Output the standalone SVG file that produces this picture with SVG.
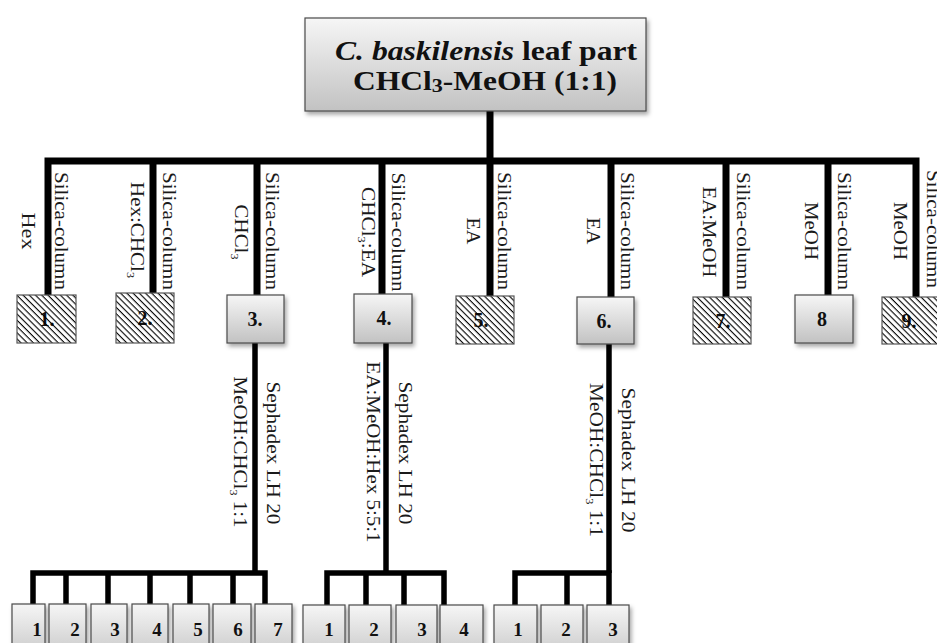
<svg xmlns="http://www.w3.org/2000/svg" width="937" height="643" viewBox="0 0 937 643">
<defs>
<linearGradient id="g" x1="0" y1="0" x2="0" y2="1">
<stop offset="0" stop-color="#f6f6f6"/>
<stop offset="1" stop-color="#c2c2c2"/>
</linearGradient>
<pattern id="hatch" patternUnits="userSpaceOnUse" width="4.4" height="4.4" patternTransform="rotate(-45)">
<line x1="1.2" y1="0" x2="1.2" y2="4.4" stroke="#000" stroke-width="1.1"/>
</pattern>
<filter id="sh" x="-20%" y="-20%" width="150%" height="150%">
<feDropShadow dx="2" dy="3" stdDeviation="2" flood-color="#000" flood-opacity="0.35"/>
</filter>
</defs>
<style>
.box{fill:url(#g);stroke:#4a4a4a;stroke-width:1.2;filter:url(#sh)}
.hbg{fill:#fff;stroke:none}
.hat{fill:url(#hatch);stroke:#555;stroke-width:1.2}
.num{font-family:"Liberation Serif","Tinos","Times New Roman",serif;font-weight:bold;font-size:20px;fill:#111;text-anchor:middle}
.bn{font-family:"Liberation Serif","Tinos","Times New Roman",serif;font-weight:bold;font-size:19px;fill:#111;text-anchor:middle}
.lab{font-family:"Liberation Serif","Tinos","Times New Roman",serif;font-size:19px;fill:#1a1a1a;text-anchor:middle}
.title{font-family:"Liberation Serif","Tinos","Times New Roman",serif;font-weight:bold;font-size:27px;fill:#111;text-anchor:middle}
.w7{fill:none;stroke:#000;stroke-width:7;stroke-linejoin:miter;stroke-linecap:butt}
.w5{fill:none;stroke:#000;stroke-width:5.5;stroke-linejoin:miter;stroke-linecap:butt}
</style>

<g id="connectors">
<path class="w7" d="M48,296 V161 H916 V298"/>
<path class="w7" d="M490,111 V297"/>
<path class="w7" d="M153,294 V161 M257,296 V161 M382,295 V161 M611,298 V161 M726,298 V161 M828,296 V161"/>
<path class="w5" d="M255,343 V573"/>
<path class="w5" d="M33,605 V573 H265 V605 M66,573 V605 M108,573 V605 M150,573 V605 M190,573 V605 M233,573 V605"/>
<path class="w5" d="M386,343 V573"/>
<path class="w5" d="M327,605 V573 H444 V605 M366,573 V605 M404,573 V605"/>
<path class="w5" d="M609,344 V573"/>
<path class="w5" d="M515,605 V573 H609 V605 M567,573 V605"/>
</g>

<g id="edge-labels">
<text class="lab" transform="translate(55,231) rotate(90)" textLength="118" lengthAdjust="spacingAndGlyphs">Silica-column</text>
<text class="lab" transform="translate(22,231) rotate(90)" textLength="37" lengthAdjust="spacingAndGlyphs">Hex</text>
<text class="lab" transform="translate(163,231) rotate(90)" textLength="118" lengthAdjust="spacingAndGlyphs">Silica-column</text>
<text class="lab" transform="translate(131,230) rotate(90)" textLength="96" lengthAdjust="spacingAndGlyphs">Hex:CHCl<tspan font-size="11" dy="4">3</tspan></text>
<text class="lab" transform="translate(266,231) rotate(90)" textLength="118" lengthAdjust="spacingAndGlyphs">Silica-column</text>
<text class="lab" transform="translate(235,232) rotate(90)" textLength="55" lengthAdjust="spacingAndGlyphs">CHCl<tspan font-size="11" dy="4">3</tspan></text>
<text class="lab" transform="translate(392,232) rotate(90)" textLength="119" lengthAdjust="spacingAndGlyphs">Silica-column</text>
<text class="lab" transform="translate(362,232) rotate(90)" textLength="90" lengthAdjust="spacingAndGlyphs">CHCl<tspan font-size="11" dy="4">3</tspan><tspan dy="-4">:EA</tspan></text>
<text class="lab" transform="translate(498,231) rotate(90)" textLength="118" lengthAdjust="spacingAndGlyphs">Silica-column</text>
<text class="lab" transform="translate(467,231) rotate(90)" textLength="27" lengthAdjust="spacingAndGlyphs">EA</text>
<text class="lab" transform="translate(621,231) rotate(90)" textLength="118" lengthAdjust="spacingAndGlyphs">Silica-column</text>
<text class="lab" transform="translate(587,231) rotate(90)" textLength="27" lengthAdjust="spacingAndGlyphs">EA</text>
<text class="lab" transform="translate(737,231) rotate(90)" textLength="118" lengthAdjust="spacingAndGlyphs">Silica-column</text>
<text class="lab" transform="translate(703,232) rotate(90)" textLength="91" lengthAdjust="spacingAndGlyphs">EA:MeOH</text>
<text class="lab" transform="translate(838,231) rotate(90)" textLength="118" lengthAdjust="spacingAndGlyphs">Silica-column</text>
<text class="lab" transform="translate(805,231) rotate(90)" textLength="58" lengthAdjust="spacingAndGlyphs">MeOH</text>
<text class="lab" transform="translate(927,229) rotate(90)" textLength="118" lengthAdjust="spacingAndGlyphs">Silica-column</text>
<text class="lab" transform="translate(894,231) rotate(90)" textLength="58" lengthAdjust="spacingAndGlyphs">MeOH</text>
<text class="lab" transform="translate(267,453) rotate(90)" textLength="143" lengthAdjust="spacingAndGlyphs">Sephadex LH 20</text>
<text class="lab" transform="translate(234,452) rotate(90)" textLength="151" lengthAdjust="spacingAndGlyphs">MeOH:CHCl<tspan font-size="11" dy="4">3</tspan><tspan dy="-4"> 1:1</tspan></text>
<text class="lab" transform="translate(399,453) rotate(90)" textLength="143" lengthAdjust="spacingAndGlyphs">Sephadex LH 20</text>
<text class="lab" transform="translate(367,452) rotate(90)" textLength="181" lengthAdjust="spacingAndGlyphs">EA:MeOH:Hex 5:5:1</text>
<text class="lab" transform="translate(622,460) rotate(90)" textLength="145" lengthAdjust="spacingAndGlyphs">Sephadex LH 20</text>
<text class="lab" transform="translate(590,460) rotate(90)" textLength="154" lengthAdjust="spacingAndGlyphs">MeOH:CHCl<tspan font-size="11" dy="4">3</tspan><tspan dy="-4"> 1:1</tspan></text>
</g>

<g id="root">
<rect class="box" x="305" y="18" width="341" height="93"/>
<text class="title" x="486" y="60" textLength="302" lengthAdjust="spacingAndGlyphs"><tspan font-style="italic">C. baskilensis</tspan> leaf part</text>
<text class="title" x="485" y="90" textLength="264" lengthAdjust="spacingAndGlyphs">CHCl<tspan font-size="19" dy="2">3</tspan><tspan dy="-2">-MeOH (1:1)</tspan></text>
</g>

<g id="f1"><rect class="hbg" x="17" y="295" width="59" height="48"/><text class="num" x="47" y="326">1.</text><rect class="hat" x="17" y="295" width="59" height="48"/></g>
<g id="f2"><rect class="hbg" x="116" y="293" width="58" height="50"/><text class="num" x="145" y="325">2.</text><rect class="hat" x="116" y="293" width="58" height="50"/></g>
<g id="f3"><rect class="box" x="227" y="295" width="57" height="48"/><text class="num" x="255" y="326">3.</text></g>
<g id="f4"><rect class="box" x="354" y="294" width="58" height="49"/><text class="num" x="384" y="325">4.</text></g>
<g id="f5"><rect class="hbg" x="456" y="296" width="58" height="48"/><text class="num" x="481" y="327">5.</text><rect class="hat" x="456" y="296" width="58" height="48"/></g>
<g id="f6"><rect class="box" x="577" y="297" width="57" height="47"/><text class="num" x="604" y="328">6.</text></g>
<g id="f7"><rect class="hbg" x="693" y="297" width="58" height="47"/><text class="num" x="723" y="328">7.</text><rect class="hat" x="693" y="297" width="58" height="47"/></g>
<g id="f8"><rect class="box" x="795" y="295" width="58" height="48"/><text class="num" x="822" y="326">8</text></g>
<g id="f9"><rect class="hbg" x="882" y="297" width="60" height="47"/><text class="num" x="909" y="328">9.</text><rect class="hat" x="882" y="297" width="60" height="47"/></g>

<g id="s3-1"><rect class="box" x="12" y="604" width="33" height="60"/><text class="bn" x="37" y="636">1</text></g>
<g id="s3-2"><rect class="box" x="49" y="604" width="37" height="60"/><text class="bn" x="75" y="636">2</text></g>
<g id="s3-3"><rect class="box" x="91" y="604" width="36" height="60"/><text class="bn" x="115" y="636">3</text></g>
<g id="s3-4"><rect class="box" x="132" y="604" width="36" height="60"/><text class="bn" x="157" y="636">4</text></g>
<g id="s3-5"><rect class="box" x="173" y="604" width="36" height="60"/><text class="bn" x="198" y="636">5</text></g>
<g id="s3-6"><rect class="box" x="213" y="604" width="38" height="60"/><text class="bn" x="238" y="636">6</text></g>
<g id="s3-7"><rect class="box" x="255" y="604" width="37" height="60"/><text class="bn" x="278" y="636">7</text></g>

<g id="s4-1"><rect class="box" x="303" y="605" width="42" height="60"/><text class="bn" x="329" y="636">1</text></g>
<g id="s4-2"><rect class="box" x="349" y="605" width="42" height="60"/><text class="bn" x="374" y="636">2</text></g>
<g id="s4-3"><rect class="box" x="396" y="605" width="41" height="60"/><text class="bn" x="422" y="636">3</text></g>
<g id="s4-4"><rect class="box" x="440" y="605" width="43" height="60"/><text class="bn" x="464" y="636">4</text></g>

<g id="s6-1"><rect class="box" x="494" y="605" width="43" height="60"/><text class="bn" x="518" y="636">1</text></g>
<g id="s6-2"><rect class="box" x="541" y="605" width="42" height="60"/><text class="bn" x="566" y="636">2</text></g>
<g id="s6-3"><rect class="box" x="587" y="605" width="42" height="60"/><text class="bn" x="613" y="636">3</text></g>
</svg>
